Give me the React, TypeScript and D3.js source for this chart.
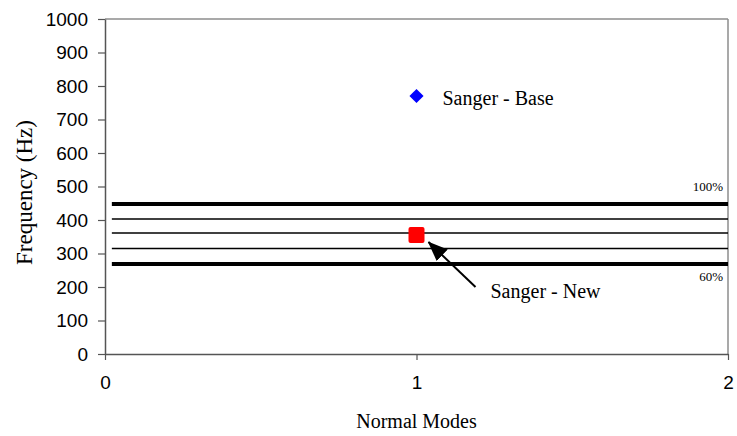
import React, { useRef, useEffect } from 'react';
import * as d3 from 'd3';

// Normal mode index and measured frequencies (Hz)
const modes = [1];
const baseFreq = [770];
const newFreq = [355];

// Horizontal bands (100% .. 60%)
const bandValues = [448, 403, 361, 315, 269];
const bandLabels = ['100%', '', '', '', '60%'];
const bandThick = [true, false, false, false, true];
const bandStart = 0.022;

const yTicks = [0, 100, 200, 300, 400, 500, 600, 700, 800, 900, 1000];
const xTicks = [0, 1, 2];

const W = 737;
const H = 436;
const margin = { top: 19, right: 9, bottom: 82, left: 105 };

const App = () => {
  const svgRef = useRef<SVGSVGElement>(null);

  useEffect(() => {
    const svg = d3.select(svgRef.current);
    svg.selectAll('*').remove();

    const innerW = W - margin.left - margin.right;
    const innerH = H - margin.top - margin.bottom;

    const x = d3.scaleLinear().domain([0, 2]).range([0, innerW]);
    const y = d3.scaleLinear().domain([0, 1000]).range([innerH, 0]);

    const g = svg.append('g').attr('transform', `translate(${margin.left},${margin.top})`);

    // Frame: top and right borders
    g.append('line')
      .attr('x1', 0).attr('x2', innerW).attr('y1', 0).attr('y2', 0)
      .attr('stroke', '#8c8c8c').attr('stroke-width', 1.5);
    g.append('line')
      .attr('x1', innerW).attr('x2', innerW).attr('y1', 0).attr('y2', innerH)
      .attr('stroke', '#8c8c8c').attr('stroke-width', 1.5);

    // Bands
    g.selectAll('.band')
      .data(bandValues)
      .enter().append('line')
      .attr('class', 'band')
      .attr('x1', x(bandStart))
      .attr('x2', innerW)
      .attr('y1', d => y(d))
      .attr('y2', d => y(d))
      .attr('stroke', '#000')
      .attr('stroke-width', (d, i) => (bandThick[i] ? 4 : 1.6));

    g.selectAll('.band-label')
      .data(bandValues)
      .enter().append('text')
      .attr('x', innerW - 5)
      .attr('y', (d, i) => (i === 0 ? y(d) - 13 : y(d) + 17))
      .attr('text-anchor', 'end')
      .attr('font-family', '"Liberation Serif", "Times New Roman", serif')
      .attr('font-size', 13)
      .text((d, i) => bandLabels[i]);

    // Y axis
    const yAxis = g.append('g')
      .call(d3.axisLeft(y).tickValues(yTicks).tickSize(7).tickSizeOuter(0).tickPadding(10).tickFormat(d3.format('d')));
    yAxis.select('.domain').attr('stroke', '#555').attr('stroke-width', 1.5);
    yAxis.selectAll('.tick line').attr('stroke', '#555').attr('stroke-width', 1.2);
    yAxis.selectAll('.tick text')
      .attr('font-family', '"Liberation Sans", Arial, sans-serif')
      .attr('font-size', 19)
      .attr('fill', '#000');

    // X axis
    const xAxis = g.append('g')
      .attr('transform', `translate(0,${innerH})`)
      .call(d3.axisBottom(x).tickValues(xTicks).tickSize(6).tickSizeOuter(0).tickPadding(16).tickFormat(d3.format('d')));
    xAxis.select('.domain').attr('stroke', '#555').attr('stroke-width', 1.5);
    xAxis.selectAll('.tick line').attr('stroke', '#555').attr('stroke-width', 1.2);
    xAxis.selectAll('.tick text')
      .attr('font-family', '"Liberation Sans", Arial, sans-serif')
      .attr('font-size', 19)
      .attr('fill', '#000');

    // Base points (blue diamond)
    g.selectAll('.base')
      .data(modes)
      .enter().append('path')
      .attr('class', 'base')
      .attr('d', d3.symbol().type(d3.symbolSquare).size(100)())
      .attr('transform', (d, i) => `translate(${x(d)},${y(baseFreq[i])}) rotate(45)`)
      .attr('fill', '#0000ff');

    // New points (red square)
    g.selectAll('.new')
      .data(modes)
      .enter().append('rect')
      .attr('class', 'new')
      .attr('x', d => x(d) - 8)
      .attr('y', (d, i) => y(newFreq[i]) - 8)
      .attr('width', 16)
      .attr('height', 16)
      .attr('rx', 2)
      .attr('fill', '#ff0000');

    // Labels
    const serif = '"Liberation Serif", "Times New Roman", serif';
    g.append('text')
      .attr('x', x(modes[0]) + 26)
      .attr('y', y(baseFreq[0]) + 9)
      .attr('font-family', serif)
      .attr('font-size', 20)
      .text('Sanger - Base');

    g.append('text')
      .attr('x', x(modes[0]) + 74)
      .attr('y', y(newFreq[0]) + 63)
      .attr('font-family', serif)
      .attr('font-size', 20)
      .text('Sanger - New');

    // Arrow
    const defs = svg.append('defs');
    defs.append('marker')
      .attr('id', 'arrowhead')
      .attr('viewBox', '0 0 20 16')
      .attr('refX', 19)
      .attr('refY', 8)
      .attr('markerWidth', 20)
      .attr('markerHeight', 16)
      .attr('markerUnits', 'userSpaceOnUse')
      .attr('orient', 'auto')
      .append('path')
      .attr('d', 'M0,0 L20,8 L0,16 Z')
      .attr('fill', '#000');

    const tailX = x(modes[0]) + 59;
    const tailY = y(newFreq[0]) + 52;
    const tipX = x(modes[0]) + 12;
    const tipY = y(newFreq[0]) + 7;
    g.append('line')
      .attr('x1', tailX).attr('y1', tailY)
      .attr('x2', tipX).attr('y2', tipY)
      .attr('stroke', '#000')
      .attr('stroke-width', 2)
      .attr('marker-end', 'url(#arrowhead)');

    // Axis titles
    svg.append('text')
      .attr('transform', `translate(32,${margin.top + y(500) + 6}) rotate(-90)`)
      .attr('text-anchor', 'middle')
      .attr('font-family', serif)
      .attr('font-size', 23)
      .text('Frequency (Hz)');

    svg.append('text')
      .attr('x', margin.left + x(1))
      .attr('y', 428)
      .attr('text-anchor', 'middle')
      .attr('font-family', serif)
      .attr('font-size', 20)
      .text('Normal Modes');
  }, []);

  return (
    <div style={{ position: 'absolute', left: 0, top: 0, background: '#fff' }}>
      <svg ref={svgRef} width={W} height={H} style={{ display: 'block' }} />
    </div>
  );
};

export default App;
